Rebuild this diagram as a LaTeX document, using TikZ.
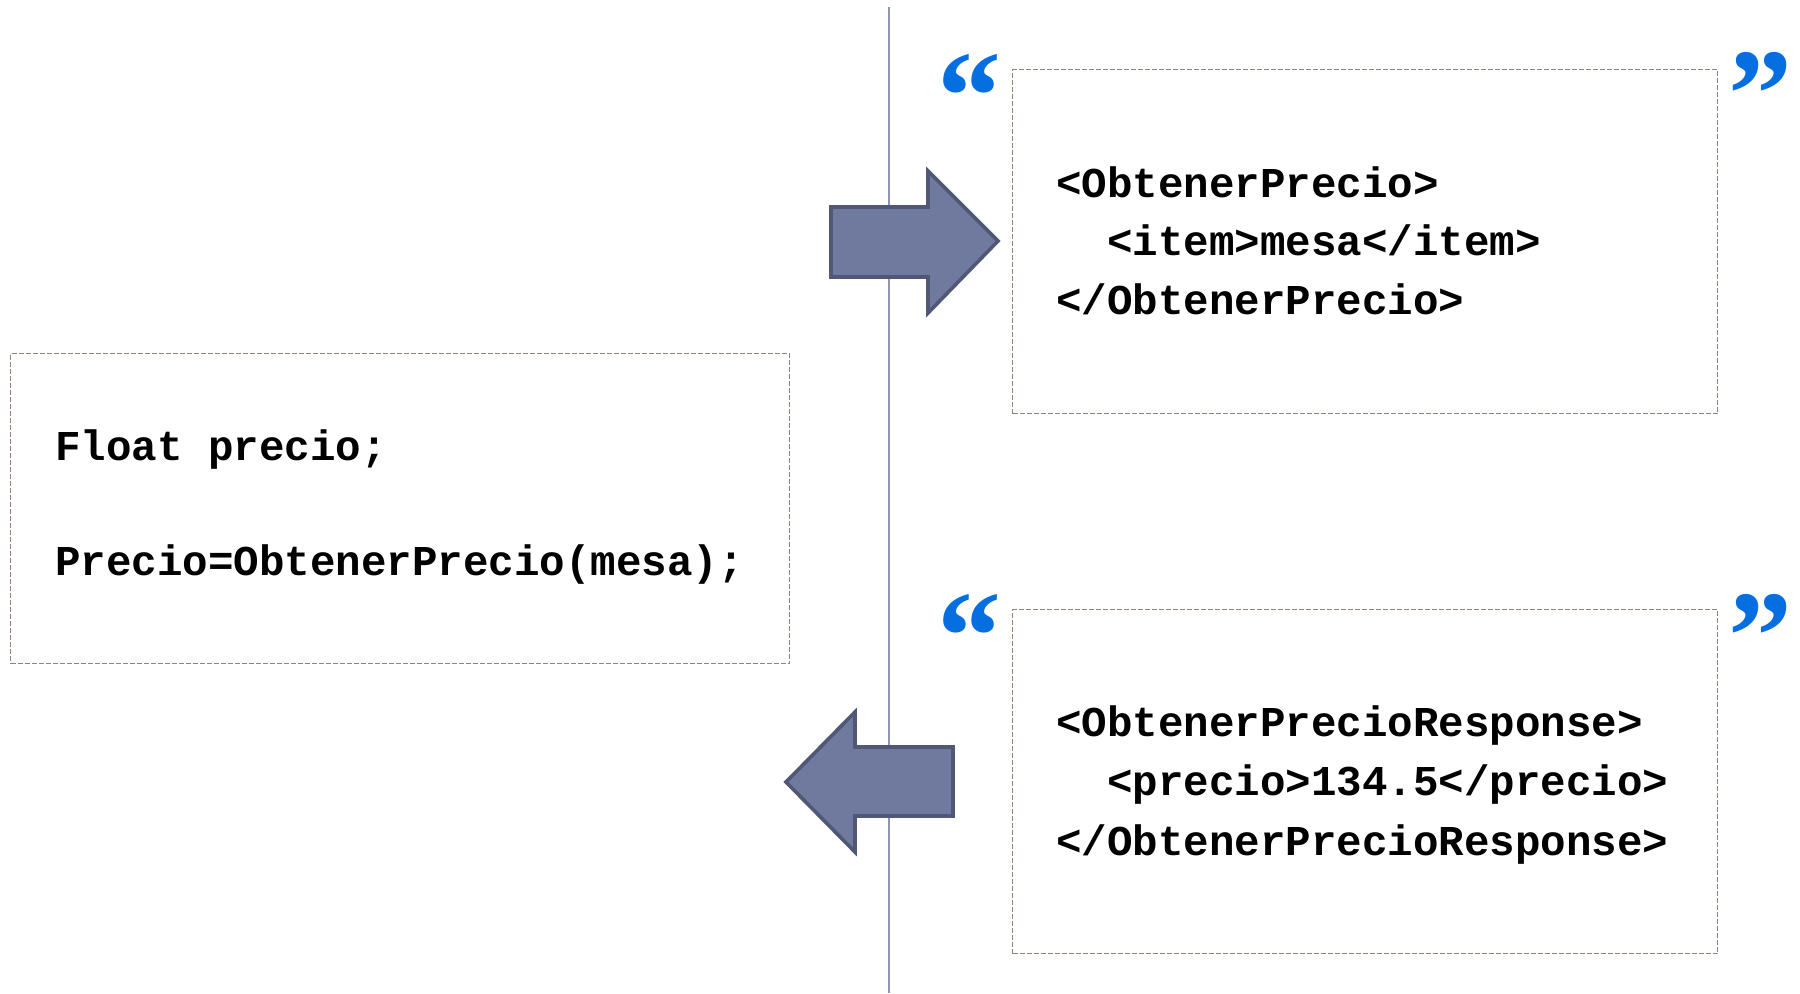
\documentclass[tikz,border=0pt]{standalone}
\usepackage{fontspec}
\newfontfamily\codefont{Liberation Mono}
\newfontfamily\quotefont{Liberation Serif}
\definecolor{arrowfill}{RGB}{111,122,158}
\definecolor{arrowline}{RGB}{80,88,117}
\definecolor{vline}{RGB}{140,148,180}
\definecolor{boxline}{RGB}{150,128,122}
\definecolor{quoteblue}{RGB}{5,110,225}
\tikzset{
  codebox/.style={draw=boxline, line width=0.7pt, dash pattern=on 2.5pt off 1pt, inner sep=0pt, anchor=north west},
  codeline/.style={anchor=base west, inner sep=0pt, font=\codefont\bfseries\fontsize{21.25}{25}\selectfont},
  quotemark/.style={anchor=north, inner sep=0pt, text=quoteblue, font=\quotefont\bfseries\fontsize{64}{64}\selectfont},
  bigarrow/.style={fill=arrowfill, draw=arrowline, line width=1.8pt, line join=miter},
}
\begin{document}
\begin{tikzpicture}[x=0.5pt,y=-0.5pt]
\useasboundingbox (0,0) rectangle (1800,993);
% vertical divider
\coordinate (vtop) at (889,7);
\coordinate (vbot) at (889,993);
\draw[vline, line width=1.1pt] (vtop) -- (vbot);
% boxes
\node[codebox, minimum width=389.5pt, minimum height=155pt] (left) at (10,353) {};
\node[codebox, minimum width=352.5pt, minimum height=172pt] (req) at (1012,69) {};
\node[codebox, minimum width=352.5pt, minimum height=172pt] (resp) at (1012,609) {};
% left code
\node[codeline] (l1) at (55,460) {Float precio;};
\node[codeline] (l2) at (55,575) {Precio=ObtenerPrecio(mesa);};
% request
\node[codeline] (r1) at (1056,197) {<ObtenerPrecio>};
\node[codeline] (r2) at (1107,255) {<item>mesa</item>};
\node[codeline] (r3) at (1056,314) {</ObtenerPrecio>};
% response
\node[codeline] (s1) at (1056,736) {<ObtenerPrecioResponse>};
\node[codeline] (s2) at (1107,795) {<precio>134.5</precio>};
\node[codeline] (s3) at (1056,855) {</ObtenerPrecioResponse>};
% quotes
\node[quotemark] (q1o) at (969,54) {“};
\node[quotemark] (q1c) at (1760,52) {”};
\node[quotemark] (q2o) at (969,594) {“};
\node[quotemark] (q2c) at (1760,594) {”};
% arrows
\draw[bigarrow] (831,207) -- (928,207) -- (928,171) -- (998,241) -- (928,313) -- (928,277) -- (831,277) -- cycle;
\draw[bigarrow] (953,747) -- (855,747) -- (855,712) -- (786,782) -- (855,852) -- (855,816) -- (953,816) -- cycle;
\end{tikzpicture}
\end{document}
